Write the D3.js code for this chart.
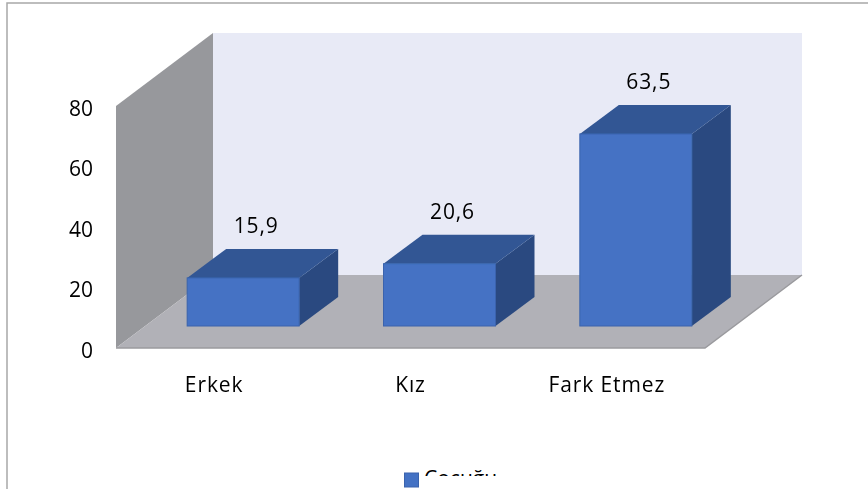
<!DOCTYPE html>
<html><head><meta charset="utf-8">
<script src="https://cdn.jsdelivr.net/npm/d3@7"></script>
<style>html,body{margin:0;padding:0;background:#fff;overflow:hidden}svg{display:block}text{font-family:"Open Sans",Lato,sans-serif;fill:#000}</style>
</head><body><svg id="c" width="868" height="489"></svg>
<script>
const categories = ["Erkek", "Kız", "Fark Etmez"];
const seriesName = "Cocuğu";
const values = [15.9, 20.6, 63.5];
const labels = ["15,9", "20,6", "63,5"];
const yTicks = [0, 20, 40, 60, 80];

const svg = d3.select("#c");
const defs = svg.append("defs");
defs.append("filter").attr("id","soft").append("feGaussianBlur").attr("stdDeviation",0.6);
defs.append("filter").attr("id","softText").append("feGaussianBlur").attr("stdDeviation",0.3);
defs.append("clipPath").attr("id","legclip").append("rect").attr("x",395).attr("y",462).attr("width",120).attr("height",14);

const depthX = 97, depthY = 73;
const xs = d3.scaleBand().domain(categories).range([116, 705]);
const ys = d3.scaleLinear().domain([0, 80]).range([348, 106]);
const barW = 112, barDX = 29, barDY = 22, sideDX = 39, sideDY = 29;
const poly = pts => d3.line()(pts) + "Z";

svg.append("path").attr("d", d3.line()([[7,489],[7,3],[868,3]]))
  .attr("fill","none").attr("stroke","#a8a8a8").attr("stroke-width",1.5);

const g = svg.append("g").attr("filter","url(#soft)");
const x0 = xs.range()[0], x1 = xs.range()[1], y0 = ys(0), yT = ys(80);
g.append("path").attr("fill","#e8eaf6").attr("d", poly([[x0+depthX,yT-depthY],[x1+depthX,yT-depthY],[x1+depthX,y0-depthY],[x0+depthX,y0-depthY]]));
g.append("path").attr("fill","#97989c").attr("d", poly([[x0,yT],[x0+depthX,yT-depthY],[x0+depthX,y0-depthY],[x0,y0]]));
g.append("path").attr("fill","#b1b1b7").attr("d", poly([[x0,y0],[x0+depthX,y0-depthY],[x1+depthX,y0-depthY],[x1,y0]]));
g.append("path").attr("fill","none").attr("stroke","#9a9a9e").attr("stroke-width",1.5).attr("d", d3.line()([[x0,y0],[x1,y0],[x1+depthX,y0-depthY]]));

const rows = categories.map((c,i)=>({c,v:values[i],l:labels[i]}));
const barLeft = d => xs(d.c) + xs.bandwidth()/2 + barDX - barW/2;
const base = y0 - barDY;
const barTop = d => base - (y0 - ys(d.v));
const bars = g.selectAll("g.bar").data(rows).join("g").attr("class","bar");
bars.append("path").attr("fill","#2a4a80").attr("d", d => { const l=barLeft(d)+barW,t=barTop(d);
  return poly([[l,t],[l+sideDX,t-sideDY],[l+sideDX,base-sideDY],[l,base]]); });
bars.append("path").attr("fill","#325694").attr("d", d => { const l=barLeft(d),t=barTop(d);
  return poly([[l,t],[l+sideDX,t-sideDY],[l+barW+sideDX,t-sideDY],[l+barW,t]]); });
bars.append("rect").attr("fill","#4472c4").attr("stroke","#3a63ad").attr("stroke-width",1)
  .attr("x",barLeft).attr("y",barTop).attr("width",barW).attr("height",d=>base-barTop(d));

const tg = svg.append("g").attr("filter","url(#softText)");
tg.selectAll("text.val").data(rows).join("text").attr("class","val")
  .attr("x", d => barLeft(d)+barW/2+13).attr("y", d => barTop(d)-44.5)
  .attr("text-anchor","middle").attr("font-size",21).attr("letter-spacing",0.9).text(d=>d.l);

tg.selectAll("text.yt").data(yTicks).join("text").attr("class","yt")
  .attr("x",93).attr("y",d=>ys(d)+9.5).attr("text-anchor","end").attr("font-size",21).text(d=>d);
tg.selectAll("text.xt").data(categories).join("text").attr("class","xt")
  .attr("x",d=>xs(d)+xs.bandwidth()/2).attr("y",391.5).attr("text-anchor","middle").attr("font-size",21).attr("letter-spacing",0.9).text(d=>d);

svg.append("rect").attr("x",404.5).attr("y",473).attr("width",14).attr("height",14).attr("fill","#4472c4").attr("stroke","#3a63ad");
svg.append("text").attr("clip-path","url(#legclip)").attr("x",424).attr("y",486).attr("font-size",21).text(seriesName);
</script></body></html>
